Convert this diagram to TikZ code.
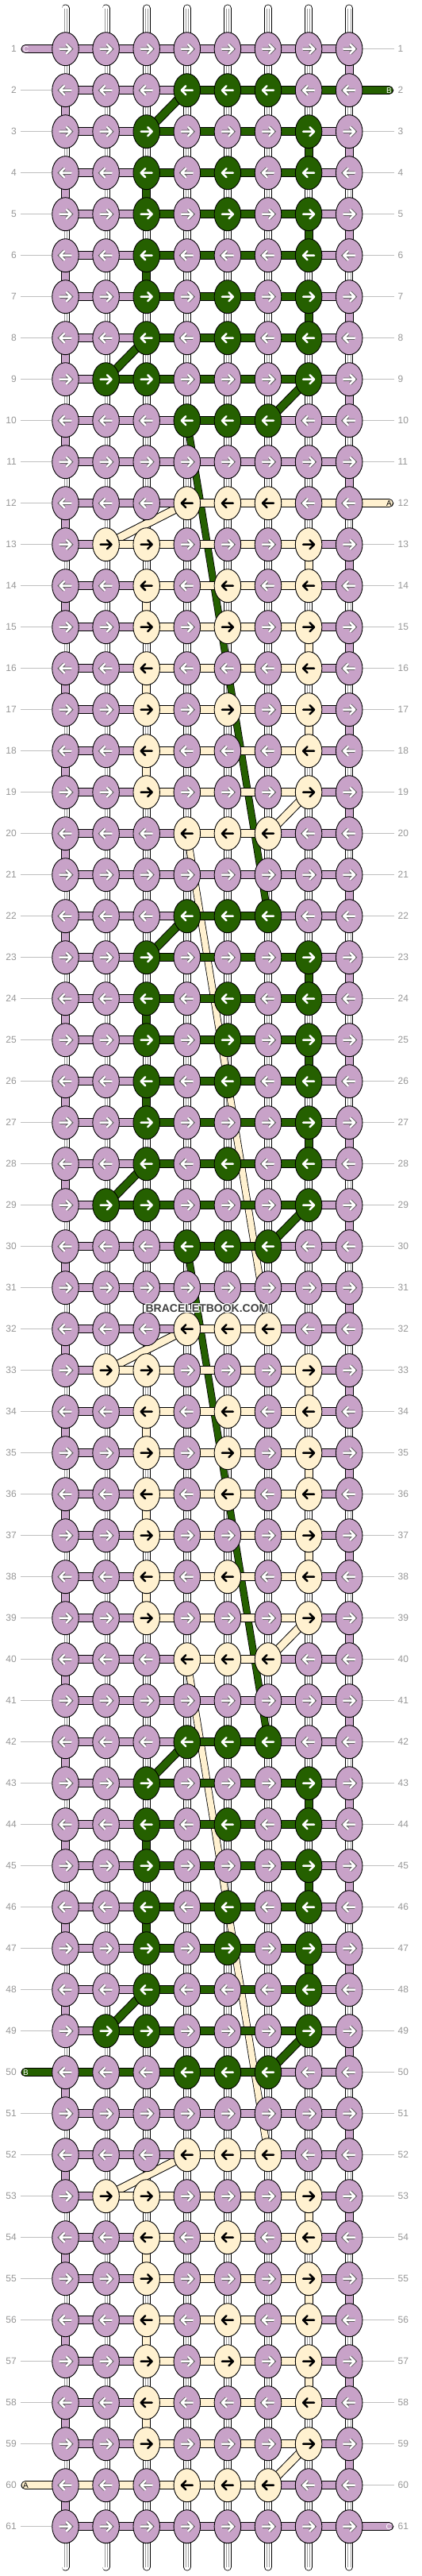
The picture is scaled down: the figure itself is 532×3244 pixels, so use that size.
\documentclass[tikz,border=0pt]{standalone}
\usepackage{fontspec}
\setmainfont{Liberation Sans}
\usetikzlibrary{shapes.geometric,backgrounds}

\definecolor{colL}{RGB}{200,162,200}
\definecolor{colG}{RGB}{37,96,0}
\definecolor{colC}{RGB}{255,241,208}
\definecolor{outL}{RGB}{95,95,95}
\colorlet{outG}{colG}
\colorlet{outC}{colC}
\colorlet{arrL}{white}
\colorlet{arrG}{white}
\colorlet{arrC}{black}
\definecolor{numgray}{RGB}{150,150,150}

\begin{document}
\begin{tikzpicture}[x=1pt,y=-1pt,
  knot/.style={ellipse,draw=black,line width=0.9pt,fill=col#1,minimum width=33.5pt,minimum height=42pt,inner sep=0pt},
  arr/.style={draw=arr#1,line width=2.5pt,line cap=round,line join=round,preaction={draw=out#1,line width=4.3pt}},
  band/.style={double=col#1,double distance=9pt,line width=1pt},
  longband/.style={double=col#1,double distance=7.6pt,line width=0.8pt},
  wstr/.style={double=white,double distance=8.4pt,line width=0.8pt,line cap=round},
  gline/.style={draw=black!25,line width=1pt},
  num/.style={text=numgray,font=\fontsize{12}{12}\selectfont,inner sep=0pt},
  tag/.style={font=\fontsize{10}{10}\selectfont,inner sep=0pt},
  wmark/.style={font=\fontsize{14}{14}\selectfont\bfseries,inner sep=0pt}]
\useasboundingbox (0,0) rectangle (532,3244);

% knots, row by row
\foreach \r/\row in {
  1/{L,L,L,L,L,L,L,L}, 2/{L,L,L,G,G,G,L,L}, 3/{L,L,G,L,L,L,G,L}, 4/{L,L,G,L,G,L,G,L},
  5/{L,L,G,L,G,L,G,L}, 6/{L,L,G,L,L,L,G,L}, 7/{L,L,G,L,G,L,G,L}, 8/{L,L,G,L,G,L,G,L},
  9/{L,G,G,L,L,L,G,L}, 10/{L,L,L,G,G,G,L,L}, 11/{L,L,L,L,L,L,L,L},
  12/{L,L,L,C,C,C,L,L}, 13/{L,C,C,L,L,L,C,L}, 14/{L,L,C,L,C,L,C,L}, 15/{L,L,C,L,C,L,C,L},
  16/{L,L,C,L,L,L,C,L}, 17/{L,L,C,L,C,L,C,L}, 18/{L,L,C,L,L,L,C,L}, 19/{L,L,C,L,L,L,C,L},
  20/{L,L,L,C,C,C,L,L}, 21/{L,L,L,L,L,L,L,L},
  22/{L,L,L,G,G,G,L,L}, 23/{L,L,G,L,L,L,G,L}, 24/{L,L,G,L,G,L,G,L}, 25/{L,L,G,L,G,L,G,L},
  26/{L,L,G,L,G,L,G,L}, 27/{L,L,G,L,L,L,G,L}, 28/{L,L,G,L,G,L,G,L}, 29/{L,G,G,L,L,L,G,L},
  30/{L,L,L,G,G,G,L,L}, 31/{L,L,L,L,L,L,L,L},
  32/{L,L,L,C,C,C,L,L}, 33/{L,C,C,L,L,L,C,L}, 34/{L,L,C,L,C,L,C,L}, 35/{L,L,C,L,C,L,C,L},
  36/{L,L,C,L,C,L,C,L}, 37/{L,L,C,L,L,L,C,L}, 38/{L,L,C,L,C,L,C,L}, 39/{L,L,C,L,L,L,C,L},
  40/{L,L,L,C,C,C,L,L}, 41/{L,L,L,L,L,L,L,L},
  42/{L,L,L,G,G,G,L,L}, 43/{L,L,G,L,L,L,G,L}, 44/{L,L,G,L,G,L,G,L}, 45/{L,L,G,L,L,L,G,L},
  46/{L,L,G,L,G,L,G,L}, 47/{L,L,G,L,G,L,G,L}, 48/{L,L,G,L,L,L,G,L}, 49/{L,G,G,L,L,L,G,L},
  50/{L,L,L,G,G,G,L,L}, 51/{L,L,L,L,L,L,L,L},
  52/{L,L,L,C,C,C,L,L}, 53/{L,C,C,L,L,L,C,L}, 54/{L,L,C,L,C,L,C,L}, 55/{L,L,C,L,L,L,C,L},
  56/{L,L,C,L,C,L,C,L}, 57/{L,L,C,L,C,L,C,L}, 58/{L,L,C,L,L,L,C,L}, 59/{L,L,C,L,L,L,C,L},
  60/{L,L,L,C,C,C,L,L}, 61/{L,L,L,L,L,L,L,L}}{
  \pgfmathsetmacro\s{ifthenelse(mod(\r,2)==1,1,-1)}
  \foreach \k [count=\c] in \row {
    \node[knot=\k] (n-\r-\c) at ({31.4+51.1*\c},{9.7+52*\r}) {};
    \draw[arr=\k,shift={(n-\r-\c.center)},xscale=\s] (-7,0) -- (7,0) (1.5,-5.5) -- (7,0) -- (1.5,5.5);
  }
  \coordinate (gl-\r) at (26,{9.7+52*\r});
  \coordinate (gr-\r) at (497,{9.7+52*\r});
  \coordinate (l-\r) at (32,{9.7+52*\r});
  \coordinate (r-\r) at (490.5,{9.7+52*\r});
  \node[num,anchor=east] (nl-\r) at (21,{9.7+52*\r}) {\r};
  \node[num,anchor=west] (nr-\r) at (501.5,{9.7+52*\r}) {\r};
}
\foreach \c in {1,...,8}{
  \coordinate (t-\c) at ({31.4+51.1*\c},10.5);
  \coordinate (b-\c) at ({31.4+51.1*\c},3232.5);
}

\begin{scope}[on background layer]
% row number lines
\foreach \r in {1,...,61}{
  \draw[gline] (gl-\r) -- (n-\r-1);
  \draw[gline] (n-\r-8) -- (gr-\r);
}
% white strings
\foreach \c in {1,...,8}{
  \draw[wstr] (t-\c) -- (b-\c);
  \draw[black!40,line width=0.5pt] ([xshift=-1.6pt]t-\c) -- ([xshift=-1.6pt]b-\c)
    ([xshift=1.6pt]t-\c) -- ([xshift=1.6pt]b-\c);
}
% long carried strings
\foreach \ra/\ca/\rb/\cb/\k in {10/4/22/6/G, 30/4/42/6/G, 20/4/32/6/C, 40/4/52/6/C}
  \draw[longband=\k] (n-\ra-\ca.center) -- (n-\rb-\cb.center);
% turns of the background string
\foreach \r in {1,...,60}{
  \pgfmathtruncatemacro\rr{\r+1}
  \pgfmathtruncatemacro\c{ifthenelse(mod(\r,2)==1,8,1)}
  \draw[band=L] (n-\r-\c.center) -- (n-\rr-\c.center);
}
% turns of the motif strings
\foreach \r/\c/\k in {3/7/G,4/3/G,5/7/G,6/3/G,7/7/G, 23/7/G,24/3/G,25/7/G,26/3/G,27/7/G,
    43/7/G,44/3/G,45/7/G,46/3/G,47/7/G,
    13/7/C,14/3/C,15/7/C,16/3/C,17/7/C,18/3/C, 33/7/C,34/3/C,35/7/C,36/3/C,37/7/C,38/3/C,
    53/7/C,54/3/C,55/7/C,56/3/C,57/7/C,58/3/C}{
  \pgfmathtruncatemacro\rr{\r+1}
  \draw[band=\k] (n-\r-\c.center) -- (n-\rr-\c.center);
}
\foreach \ra/\ca/\rb/\cb/\k in {2/4/3/3/G, 8/3/9/2/G, 9/7/10/6/G, 22/4/23/3/G, 28/3/29/2/G,
    29/7/30/6/G, 42/4/43/3/G, 48/3/49/2/G, 49/7/50/6/G,
    12/4/13/2/C, 19/7/20/6/C, 32/4/33/2/C, 39/7/40/6/C, 52/4/53/2/C, 59/7/60/6/C}
  \draw[band=\k] (n-\ra-\ca.center) -- (n-\rb-\cb.center);
% rows
\foreach \r in {1,...,61}
  \draw[band=L] (n-\r-1.center) -- (n-\r-8.center);
\foreach \r/\a/\b/\k in {2/4/8/G, 3/3/7/G, 4/3/7/G, 5/3/7/G, 6/3/7/G, 7/3/7/G, 8/3/7/G,
    9/2/7/G, 10/4/6/G,
    12/4/8/C, 13/2/7/C, 14/3/7/C, 15/3/7/C, 16/3/7/C, 17/3/7/C, 18/3/7/C, 19/3/7/C, 20/4/6/C,
    22/4/6/G, 23/3/7/G, 24/3/7/G, 25/3/7/G, 26/3/7/G, 27/3/7/G, 28/3/7/G, 29/2/7/G, 30/4/6/G,
    32/4/6/C, 33/2/7/C, 34/3/7/C, 35/3/7/C, 36/3/7/C, 37/3/7/C, 38/3/7/C, 39/3/7/C, 40/4/6/C,
    42/4/6/G, 43/3/7/G, 44/3/7/G, 45/3/7/G, 46/3/7/G, 47/3/7/G, 48/3/7/G, 49/2/7/G, 50/1/6/G,
    52/4/6/C, 53/2/7/C, 54/3/7/C, 55/3/7/C, 56/3/7/C, 57/3/7/C, 58/3/7/C, 59/3/7/C, 60/1/6/C}
  \draw[band=\k] (n-\r-\a.center) -- (n-\r-\b.center);
% loose ends
\foreach \r/\k/\t/\tc in {1/L/C/white, 50/G/B/white, 60/C/A/black}{
  \draw[band=\k,line cap=round] (l-\r) -- (n-\r-1.center);
  \node[tag,text=\tc,anchor=west] (tag-\r) at ([xshift=-3pt]l-\r) {\t};
}
\foreach \r/\k/\t/\tc in {2/G/B/white, 12/C/A/black, 61/L/C/white}{
  \draw[band=\k,line cap=round] (n-\r-8.center) -- (r-\r);
  \node[tag,text=\tc,anchor=east] (tag-\r) at ([xshift=3.5pt]r-\r) {\t};
}
\end{scope}

% watermark
\coordinate (wm) at (261,1648);
\foreach \dx/\dy in {-1/0,1/0,0/-1,0/1,-1/-1,1/1,-1/1,1/-1}
  \node[wmark,text=white,xshift=\dx pt,yshift=\dy pt] at (wm) {BRACELETBOOK.COM};
\node[wmark,text=black!75] (brand) at (wm) {BRACELETBOOK.COM};
\end{tikzpicture}
\end{document}
